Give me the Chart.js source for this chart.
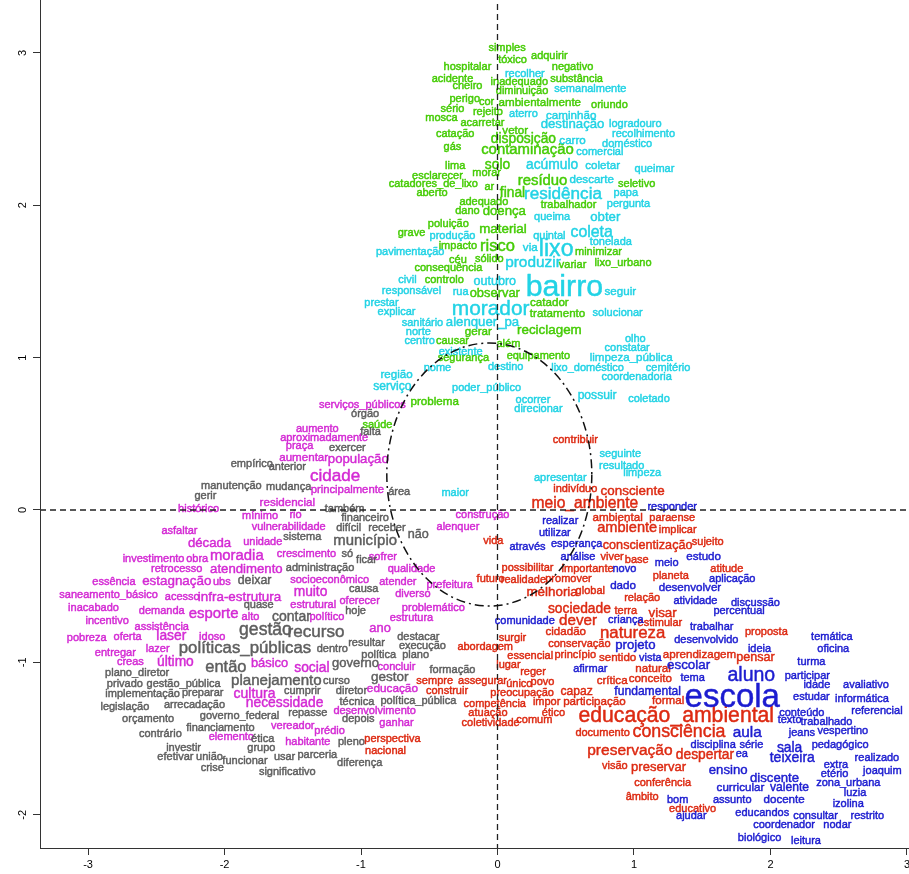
<!DOCTYPE html>
<html>
<head>
<meta charset="utf-8">
<script src="https://cdn.jsdelivr.net/npm/chart.js@4.4.1/dist/chart.umd.min.js"></script>
<style>
  html, body { margin: 0; padding: 0; background: #fff; overflow: hidden; }
  canvas { display: block; margin-top: -6px; }
</style>
</head>
<body>
<canvas id="plot" width="920" height="880"></canvas>
<script>
// axis ranges and tick labels (data units)
const xRange = [-3.352, 3.059];
const yRange = [-2.218, 3.386];
const xTicks = [-3, -2, -1, 0, 1, 2, 3];
const yTicks = [-2, -1, 0, 1, 2, 3];

// dash-dot ellipse around the centre (centre x, centre y, radius x, radius y)
const circleCenter = [-0.06, 0.233];
const circleRadius = [0.751, 0.863];

// each term: [word, dim1, dim2, cex]
const greenTerms = [
  ["simples", 0.07, 3.03, 1], ["adquirir", 0.38, 2.98, 1], ["tóxico", 0.11, 2.95, 1],
  ["hospitalar", -0.22, 2.91, 1], ["negativo", 0.55, 2.91, 1], ["acidente", -0.33, 2.83, 1],
  ["inadequado", 0.16, 2.81, 1], ["substância", 0.58, 2.83, 1], ["cheiro", -0.22, 2.78, 1],
  ["diminuição", 0.18, 2.75, 1], ["perigo", -0.24, 2.70, 1], ["cor", -0.08, 2.68, 1],
  ["ambientalmente", 0.31, 2.67, 1.05], ["oriundo", 0.82, 2.66, 1], ["sério", -0.33, 2.63, 1],
  ["rejeito", -0.07, 2.61, 1], ["mosca", -0.41, 2.57, 1], ["acarretar", -0.11, 2.54, 1],
  ["vetor", 0.13, 2.49, 1.05], ["catação", -0.31, 2.47, 1], ["disposição", 0.19, 2.43, 1.25],
  ["gás", -0.33, 2.38, 1], ["contaminação", 0.22, 2.36, 1.35], ["lima", -0.31, 2.26, 1],
  ["solo", 0.00, 2.26, 1.25], ["esclarecer", -0.44, 2.19, 1], ["morar", -0.08, 2.21, 1],
  ["catadores_de_lixo", -0.47, 2.14, 1], ["ar", -0.06, 2.12, 1], ["resíduo", 0.33, 2.16, 1.35],
  ["seletivo", 1.02, 2.14, 1], ["aberto", -0.48, 2.08, 1], ["final", 0.11, 2.08, 1.25],
  ["adequado", -0.10, 2.02, 1], ["trabalhador", 0.52, 2.00, 1], ["dano", -0.22, 1.96, 1],
  ["doença", 0.05, 1.96, 1.2], ["poluição", -0.36, 1.88, 1], ["material", 0.04, 1.84, 1.22],
  ["grave", -0.63, 1.82, 1], ["risco", 0.00, 1.73, 1.5], ["impacto", -0.29, 1.73, 1],
  ["minimizar", 0.74, 1.69, 1], ["céu", -0.29, 1.64, 1], ["sólido", -0.06, 1.65, 1],
  ["variar", 0.55, 1.61, 1], ["lixo_urbano", 0.92, 1.62, 1], ["consequência", -0.36, 1.59, 1],
  ["controlo", -0.39, 1.51, 1], ["observar", -0.02, 1.42, 1.17], ["catador", 0.38, 1.36, 1.05],
  ["tratamento", 0.44, 1.29, 1.05], ["gerar", -0.14, 1.17, 1.05], ["reciclagem", 0.38, 1.18, 1.22],
  ["causar", -0.33, 1.11, 1], ["além", 0.08, 1.09, 1], ["segurança", -0.25, 1.00, 1],
  ["equipamento", 0.30, 1.01, 1], ["problema", -0.46, 0.71, 1.05], ["saúde", -0.88, 0.56, 1]
];

const cyanTerms = [
  ["recolher", 0.20, 2.86, 1], ["semanalmente", 0.68, 2.76, 1], ["aterro", 0.19, 2.60, 1],
  ["caminhão", 0.54, 2.59, 1.05], ["destinação", 0.55, 2.53, 1.2], ["logradouro", 1.01, 2.53, 1],
  ["carro", 0.55, 2.42, 1.05], ["recolhimento", 1.07, 2.47, 1], ["doméstico", 0.95, 2.40, 1],
  ["comercial", 0.75, 2.35, 1], ["acúmulo", 0.40, 2.26, 1.25], ["coletar", 0.77, 2.26, 1.05],
  ["queimar", 1.15, 2.24, 1], ["descarte", 0.69, 2.17, 1.05], ["residência", 0.48, 2.07, 1.55],
  ["papa", 0.94, 2.08, 1], ["pergunta", 0.96, 2.01, 1], ["queima", 0.40, 1.92, 1],
  ["obter", 0.79, 1.92, 1.2], ["produção", -0.33, 1.80, 1], ["quintal", 0.38, 1.80, 1],
  ["coleta", 0.69, 1.82, 1.45], ["tonelada", 0.83, 1.76, 1], ["via", 0.24, 1.72, 1.05],
  ["lixo", 0.43, 1.71, 2.1], ["pavimentação", -0.64, 1.69, 1], ["produzir", 0.26, 1.62, 1.4],
  ["civil", -0.66, 1.51, 1], ["outubro", -0.02, 1.50, 1.15], ["bairro", 0.49, 1.46, 2.75],
  ["responsável", -0.63, 1.44, 1], ["rua", -0.27, 1.43, 1], ["seguir", 0.90, 1.43, 1.05],
  ["prestar", -0.85, 1.36, 1], ["morador", -0.05, 1.32, 1.9], ["explicar", -0.74, 1.30, 1],
  ["solucionar", 0.88, 1.29, 1], ["sanitário", -0.55, 1.23, 1], ["alenquer_pa", -0.11, 1.23, 1.2],
  ["norte", -0.58, 1.17, 1], ["centro", -0.57, 1.11, 1], ["olho", 1.01, 1.12, 1],
  ["existente", -0.27, 1.04, 1], ["constatar", 0.95, 1.06, 1], ["limpeza_pública", 0.98, 1.00, 1.05],
  ["nome", -0.44, 0.93, 1], ["destino", 0.06, 0.94, 1], ["lixo_doméstico", 0.66, 0.93, 1],
  ["cemitério", 1.25, 0.93, 1], ["região", -0.74, 0.89, 1.05], ["coordenadoria", 1.02, 0.87, 1],
  ["serviço", -0.77, 0.81, 1.1], ["poder_público", -0.08, 0.80, 1], ["possuir", 0.73, 0.75, 1.1],
  ["coletado", 1.11, 0.73, 1], ["ocorrer", 0.26, 0.72, 1], ["direcionar", 0.30, 0.66, 1],
  ["seguinte", 0.90, 0.37, 1], ["resultado", 0.91, 0.29, 1], ["limpeza", 1.06, 0.24, 1],
  ["apresentar", 0.46, 0.21, 1], ["maior", -0.31, 0.11, 1]
];

const magentaTerms = [
  ["serviços_públicos", -0.99, 0.69, 1], ["aumento", -1.32, 0.53, 1], ["aproximadamente", -1.27, 0.47, 1],
  ["praça", -1.45, 0.42, 1], ["aumentar", -1.42, 0.34, 1.05], ["população", -1.02, 0.33, 1.2],
  ["cidade", -1.19, 0.22, 1.55], ["principalmente", -1.10, 0.13, 1.03], ["residencial", -1.54, 0.05, 1.05],
  ["histórico", -2.19, 0.01, 1], ["mínimo", -1.74, -0.04, 1], ["rio", -1.48, -0.03, 1],
  ["construção", -0.11, -0.03, 1], ["vulnerabilidade", -1.53, -0.11, 1], ["alenquer", -0.29, -0.11, 1],
  ["asfaltar", -2.33, -0.14, 1], ["década", -2.11, -0.22, 1.2], ["unidade", -1.72, -0.21, 1],
  ["investimento", -2.52, -0.32, 1], ["obra", -2.20, -0.32, 1], ["moradia", -1.91, -0.30, 1.35],
  ["crescimento", -1.40, -0.29, 1], ["sofrer", -0.84, -0.31, 1], ["retrocesso", -2.35, -0.39, 1],
  ["atendimento", -1.84, -0.39, 1.2], ["qualidade", -0.63, -0.39, 1], ["essência", -2.81, -0.47, 1],
  ["estagnação", -2.35, -0.47, 1.22], ["ubs", -2.02, -0.47, 1], ["socioeconômico", -1.23, -0.46, 1],
  ["atender", -0.73, -0.47, 1], ["prefeitura", -0.35, -0.49, 1], ["muito", -1.37, -0.54, 1.25],
  ["diverso", -0.62, -0.55, 1], ["saneamento_básico", -2.85, -0.56, 1], ["acesso", -2.31, -0.57, 1],
  ["infra-estrutura", -1.89, -0.57, 1.22], ["inacabado", -2.96, -0.64, 1], ["demanda", -2.46, -0.66, 1],
  ["esporte", -2.08, -0.68, 1.35], ["alto", -1.81, -0.70, 1], ["estrutural", -1.35, -0.62, 1],
  ["oferecer", -1.01, -0.60, 1], ["político", -1.25, -0.70, 1], ["problemático", -0.47, -0.64, 1],
  ["estrutura", -0.63, -0.71, 1], ["incentivo", -2.86, -0.73, 1], ["assistência", -2.46, -0.77, 1],
  ["ano", -0.86, -0.78, 1.17], ["pobreza", -3.01, -0.84, 1], ["oferta", -2.71, -0.83, 1],
  ["laser", -2.39, -0.83, 1.25], ["idoso", -2.09, -0.83, 1], ["lazer", -2.49, -0.91, 1],
  ["entregar", -2.80, -0.94, 1], ["creas", -2.69, -1.00, 1], ["último", -2.36, -1.00, 1.25],
  ["básico", -1.67, -1.01, 1.17], ["social", -1.36, -1.04, 1.25], ["concluir", -0.74, -1.03, 1],
  ["cultura", -1.78, -1.21, 1.27], ["educação", -0.77, -1.17, 1.07], ["necessidade", -1.56, -1.27, 1.25],
  ["desenvolvimento", -0.90, -1.32, 1], ["ganhar", -0.74, -1.40, 1], ["vereador", -1.50, -1.42, 1],
  ["prédio", -1.23, -1.45, 1], ["elemento", -1.95, -1.49, 1], ["habitante", -1.39, -1.52, 1]
];

const grayTerms = [
  ["órgão", -0.97, 0.63, 1], ["falta", -0.93, 0.51, 1], ["exercer", -1.10, 0.41, 1],
  ["empírico", -1.80, 0.30, 1], ["anterior", -1.54, 0.28, 1], ["manutenção", -1.95, 0.16, 1],
  ["mudança", -1.53, 0.15, 1], ["área", -0.72, 0.12, 1], ["gerir", -2.14, 0.09, 1],
  ["também", -1.12, 0.01, 1], ["financeiro", -0.97, -0.05, 1], ["difícil", -1.09, -0.12, 1],
  ["receber", -0.81, -0.12, 1], ["não", -0.58, -0.16, 1.15], ["sistema", -1.43, -0.18, 1],
  ["município", -0.97, -0.20, 1.35], ["só", -1.10, -0.29, 1], ["ficar", -0.96, -0.33, 1],
  ["administração", -1.30, -0.38, 1], ["deixar", -1.78, -0.46, 1.13], ["causa", -0.98, -0.52, 1],
  ["quase", -1.75, -0.62, 1], ["hoje", -1.04, -0.66, 1], ["contar", -1.51, -0.70, 1.27],
  ["gestão", -1.70, -0.79, 1.6], ["recurso", -1.33, -0.80, 1.55], ["destacar", -0.58, -0.83, 1],
  ["resultar", -0.96, -0.87, 1], ["execução", -0.55, -0.89, 1], ["políticas_públicas", -1.85, -0.91, 1.53],
  ["dentro", -1.21, -0.91, 1], ["política", -0.87, -0.95, 1], ["plano", -0.60, -0.95, 1],
  ["então", -1.99, -1.03, 1.5], ["governo", -1.04, -1.01, 1.18], ["formação", -0.33, -1.05, 1],
  ["plano_diretor", -2.64, -1.07, 1], ["planejamento", -1.62, -1.12, 1.37], ["curso", -1.18, -1.12, 1],
  ["gestor", -0.79, -1.10, 1.23], ["privado", -2.73, -1.14, 1], ["gestão_pública", -2.30, -1.14, 1],
  ["implementação", -2.60, -1.21, 1], ["preparar", -2.16, -1.20, 1], ["cumprir", -1.43, -1.19, 1],
  ["diretor", -1.07, -1.19, 1], ["técnica", -1.03, -1.26, 1], ["política_pública", -0.58, -1.25, 1],
  ["legislação", -2.73, -1.29, 1], ["arrecadação", -2.22, -1.28, 1], ["governo_federal", -1.89, -1.35, 1],
  ["repasse", -1.39, -1.33, 1], ["orçamento", -2.56, -1.37, 1], ["depois", -1.02, -1.37, 1],
  ["financiamento", -2.03, -1.43, 1], ["contrário", -2.47, -1.47, 1], ["ética", -1.72, -1.50, 1],
  ["pleno", -1.07, -1.52, 1], ["investir", -2.30, -1.56, 1], ["grupo", -1.73, -1.56, 1],
  ["efetivar", -2.36, -1.62, 1], ["união", -2.11, -1.62, 1], ["funcionar", -1.85, -1.65, 1],
  ["usar", -1.56, -1.62, 1], ["parceria", -1.32, -1.61, 1], ["crise", -2.09, -1.69, 1],
  ["diferença", -1.01, -1.66, 1], ["significativo", -1.54, -1.72, 1]
];

const redTerms = [
  ["contribuir", 0.57, 0.46, 1], ["indivíduo", 0.57, 0.14, 1], ["consciente", 0.99, 0.12, 1.22],
  ["meio_ambiente", 0.64, 0.04, 1.42], ["ambiental", 0.88, -0.05, 1.05], ["paraense", 1.28, -0.05, 1],
  ["ambiente", 0.95, -0.12, 1.33], ["implicar", 1.32, -0.13, 1], ["vida", -0.03, -0.20, 1],
  ["conscientização", 1.10, -0.23, 1.15], ["sujeito", 1.54, -0.21, 1], ["viver", 0.84, -0.31, 1],
  ["base", 1.02, -0.33, 1], ["possibilitar", 0.22, -0.38, 1], ["importante", 0.66, -0.39, 1],
  ["planeta", 1.27, -0.43, 1], ["atitude", 1.68, -0.39, 1], ["futuro", -0.05, -0.45, 1],
  ["realidade", 0.19, -0.46, 1], ["promover", 0.52, -0.45, 1], ["global", 0.68, -0.53, 1],
  ["melhoria", 0.40, -0.54, 1.22], ["relação", 1.06, -0.58, 1], ["sociedade", 0.60, -0.65, 1.25],
  ["terra", 0.94, -0.66, 1], ["visar", 1.21, -0.68, 1.22], ["dever", 0.59, -0.73, 1.38],
  ["estimular", 1.19, -0.74, 1], ["cidadão", 0.50, -0.80, 1.05], ["natureza", 0.99, -0.81, 1.53],
  ["proposta", 1.97, -0.80, 1], ["surgir", 0.11, -0.84, 1], ["conservação", 0.60, -0.88, 1],
  ["abordagem", -0.09, -0.90, 1], ["essencial", 0.24, -0.96, 1], ["princípio", 0.57, -0.95, 1],
  ["sentido", 0.88, -0.97, 1.05], ["aprendizagem", 1.48, -0.95, 1.05], ["pensar", 1.89, -0.97, 1.15],
  ["lugar", 0.08, -1.02, 1], ["reger", 0.26, -1.06, 1], ["natural", 1.14, -1.04, 1.05],
  ["sempre", -0.46, -1.12, 1], ["assegurar", -0.11, -1.12, 1], ["único", 0.16, -1.14, 1],
  ["povo", 0.33, -1.13, 1], ["crítica", 0.84, -1.12, 1.05], ["conceito", 1.12, -1.11, 1.05],
  ["construir", -0.37, -1.19, 1], ["preocupação", 0.18, -1.20, 1], ["capaz", 0.58, -1.19, 1.1],
  ["competência", -0.02, -1.27, 1], ["impor", 0.36, -1.26, 1], ["participação", 0.71, -1.26, 1.05],
  ["formal", 1.25, -1.25, 1.05], ["atuação", -0.07, -1.33, 1], ["ético", 0.41, -1.33, 1],
  ["comum", 0.27, -1.38, 1], ["educação_ambiental", 1.31, -1.35, 1.93], ["coletividade", -0.05, -1.40, 1],
  ["perspectiva", -0.77, -1.50, 1], ["nacional", -0.82, -1.58, 1], ["documento", 0.77, -1.46, 1],
  ["consciência", 1.33, -1.46, 1.62], ["preservação", 0.97, -1.58, 1.41], ["despertar", 1.52, -1.61, 1.25],
  ["visão", 0.86, -1.68, 1], ["preservar", 1.18, -1.69, 1.18], ["conferência", 1.21, -1.79, 1],
  ["âmbito", 1.06, -1.88, 1], ["educativo", 1.43, -1.96, 1]
];

const blueTerms = [
  ["responder", 1.28, 0.02, 1], ["realizar", 0.46, -0.07, 1], ["utilizar", 0.42, -0.15, 1],
  ["através", 0.22, -0.24, 1], ["esperança", 0.58, -0.22, 1], ["análise", 0.59, -0.31, 1],
  ["estudo", 1.51, -0.31, 1.05], ["meio", 1.24, -0.35, 1], ["novo", 0.93, -0.39, 1],
  ["aplicação", 1.72, -0.45, 1], ["dado", 0.92, -0.50, 1.05], ["desenvolver", 1.41, -0.51, 1.05],
  ["atividade", 1.45, -0.60, 1], ["discussão", 1.89, -0.61, 1], ["percentual", 1.77, -0.66, 1],
  ["comunidade", 0.20, -0.73, 1], ["criança", 0.94, -0.72, 1], ["trabalhar", 1.57, -0.77, 1],
  ["projeto", 1.01, -0.89, 1.2], ["desenvolvido", 1.53, -0.85, 1], ["temática", 2.45, -0.83, 1],
  ["oficina", 2.46, -0.91, 1], ["ideia", 1.92, -0.91, 1], ["vista", 1.12, -0.97, 1],
  ["turma", 2.30, -1.00, 1], ["afirmar", 0.68, -1.04, 1], ["escolar", 1.40, -1.02, 1.22],
  ["tema", 1.43, -1.10, 1], ["aluno", 1.86, -1.09, 1.77], ["participar", 2.27, -1.09, 1],
  ["avaliativo", 2.70, -1.15, 1], ["idade", 2.34, -1.15, 1], ["fundamental", 1.10, -1.19, 1.1],
  ["escola", 1.72, -1.23, 3.0], ["estudar", 2.30, -1.23, 1], ["informática", 2.67, -1.24, 1],
  ["conteúdo", 2.23, -1.33, 1], ["referencial", 2.78, -1.32, 1], ["texto", 2.14, -1.38, 1],
  ["trabalhado", 2.41, -1.39, 1], ["aula", 1.83, -1.46, 1.4], ["jeans", 2.23, -1.46, 1],
  ["vespertino", 2.53, -1.45, 1], ["disciplina", 1.58, -1.54, 1], ["série", 1.86, -1.54, 1],
  ["sala", 2.14, -1.56, 1.25], ["pedagógico", 2.51, -1.54, 1], ["ea", 1.79, -1.60, 1],
  ["teixeira", 2.16, -1.63, 1.27], ["extra", 2.48, -1.67, 1], ["realizado", 2.78, -1.63, 1],
  ["ensino", 1.69, -1.71, 1.2], ["etério", 2.47, -1.73, 1], ["joaquim", 2.82, -1.71, 1],
  ["discente", 2.03, -1.76, 1.2], ["zona_urbana", 2.57, -1.79, 1], ["curricular", 1.78, -1.82, 1.05],
  ["valente", 2.14, -1.82, 1.1], ["luzia", 2.62, -1.86, 1], ["bom", 1.32, -1.90, 1],
  ["assunto", 1.72, -1.90, 1], ["docente", 2.10, -1.90, 1.05], ["izolina", 2.57, -1.93, 1],
  ["ajudar", 1.42, -2.01, 1], ["educandos", 1.94, -1.99, 1], ["consultar", 2.33, -2.01, 1],
  ["restrito", 2.71, -2.01, 1], ["coordenador", 2.10, -2.07, 1], ["nodar", 2.49, -2.07, 1],
  ["biológico", 1.92, -2.15, 1], ["leitura", 2.26, -2.17, 1]
];

const FONT = "'Liberation Sans', Arial, sans-serif";
const BASE_SIZE = 11;

const groups = [
  { terms: greenTerms, color: "#45cc05" },
  { terms: cyanTerms, color: "#22d3e5" },
  { terms: magentaTerms, color: "#d42ad4" },
  { terms: grayTerms, color: "#5e5e5e" },
  { terms: redTerms, color: "#dd2a12" },
  { terms: blueTerms, color: "#1c1cd0" }
];

const datasets = groups.map((g) => ({
  data: g.terms.map((t) => ({ x: t[1], y: t[2] })),
  words: g.terms.map((t) => t[0]),
  cex: g.terms.map((t) => t[3]),
  color: g.color,
  pointRadius: 0,
  showLine: false
}));

const wordLabels = {
  id: "wordLabels",
  afterDatasetsDraw(chart) {
    const ctx = chart.ctx;
    ctx.save();
    ctx.textAlign = "center";
    ctx.textBaseline = "middle";
    ctx.lineJoin = "round";
    chart.data.datasets.forEach((ds, i) => {
      const meta = chart.getDatasetMeta(i);
      ctx.fillStyle = ds.color;
      ctx.strokeStyle = ds.color;
      meta.data.forEach((pt, j) => {
        ctx.font = `${(BASE_SIZE * ds.cex[j]).toFixed(1)}px ${FONT}`;
        // a faint outline thickens the glyphs a little, like the original raster
        ctx.lineWidth = 0.45;
        ctx.strokeText(ds.words[j], pt.x, pt.y);
        ctx.fillText(ds.words[j], pt.x, pt.y);
      });
    });
    ctx.restore();
  }
};

const frame = {
  id: "frame",
  afterDraw(chart) {
    const { ctx, chartArea: a, scales } = chart;
    const sx = scales.x, sy = scales.y;
    ctx.save();

    // reference lines at the origin
    ctx.strokeStyle = "#222";
    ctx.lineWidth = 1.3;
    ctx.setLineDash([6, 4]);
    const x0 = sx.getPixelForValue(0), y0 = sy.getPixelForValue(0);
    ctx.beginPath();
    ctx.moveTo(x0, a.top); ctx.lineTo(x0, a.bottom);
    ctx.moveTo(a.left, y0); ctx.lineTo(a.right, y0);
    ctx.stroke();

    // dash-dot ellipse
    const cx = sx.getPixelForValue(circleCenter[0]);
    const cy = sy.getPixelForValue(circleCenter[1]);
    const rx = Math.abs(sx.getPixelForValue(circleCenter[0] + circleRadius[0]) - cx);
    const ry = Math.abs(sy.getPixelForValue(circleCenter[1] + circleRadius[1]) - cy);
    ctx.setLineDash([9, 4, 2, 4]);
    ctx.lineWidth = 1.5;
    ctx.strokeStyle = "#111";
    ctx.beginPath();
    ctx.ellipse(cx, cy, rx, ry, 0, 0, Math.PI * 2);
    ctx.stroke();

    // box
    ctx.setLineDash([]);
    ctx.lineWidth = 1;
    ctx.strokeStyle = "#333";
    ctx.strokeRect(a.left + 0.5, a.top + 0.5, a.right - a.left, a.bottom - a.top);

    // rotated y tick labels
    ctx.fillStyle = "#000";
    ctx.font = `11px ${FONT}`;
    ctx.textAlign = "center";
    ctx.textBaseline = "middle";
    yTicks.forEach((v) => {
      const py = sy.getPixelForValue(v);
      ctx.save();
      ctx.translate(a.left - 17, py);
      ctx.rotate(-Math.PI / 2);
      ctx.fillText(String(v), 0, 0);
      ctx.restore();
    });
    ctx.restore();
  }
};

new Chart(document.getElementById("plot"), {
  type: "scatter",
  data: { datasets },
  options: {
    responsive: false,
    devicePixelRatio: 1,
    animation: false,
    layout: { padding: { top: 0, right: 5, bottom: 0, left: 0 } },
    plugins: { legend: { display: false }, tooltip: { enabled: false } },
    scales: {
      x: {
        type: "linear",
        min: xRange[0],
        max: xRange[1],
        afterBuildTicks: (s) => { s.ticks = xTicks.map((v) => ({ value: v })); },
        afterFit: (s) => { s.height = 26; },
        grid: { drawOnChartArea: false, tickLength: 7, color: "#333" },
        border: { color: "#333" },
        ticks: { color: "#000", padding: 3, font: { size: 11, family: FONT } }
      },
      y: {
        type: "linear",
        min: yRange[0],
        max: yRange[1],
        afterBuildTicks: (s) => { s.ticks = yTicks.map((v) => ({ value: v })); },
        afterFit: (s) => { s.width = 40; },
        grid: { drawOnChartArea: false, tickLength: 7, color: "#333" },
        border: { color: "#333" },
        ticks: { display: false }
      }
    }
  },
  plugins: [wordLabels, frame]
});
</script>
</body>
</html>
